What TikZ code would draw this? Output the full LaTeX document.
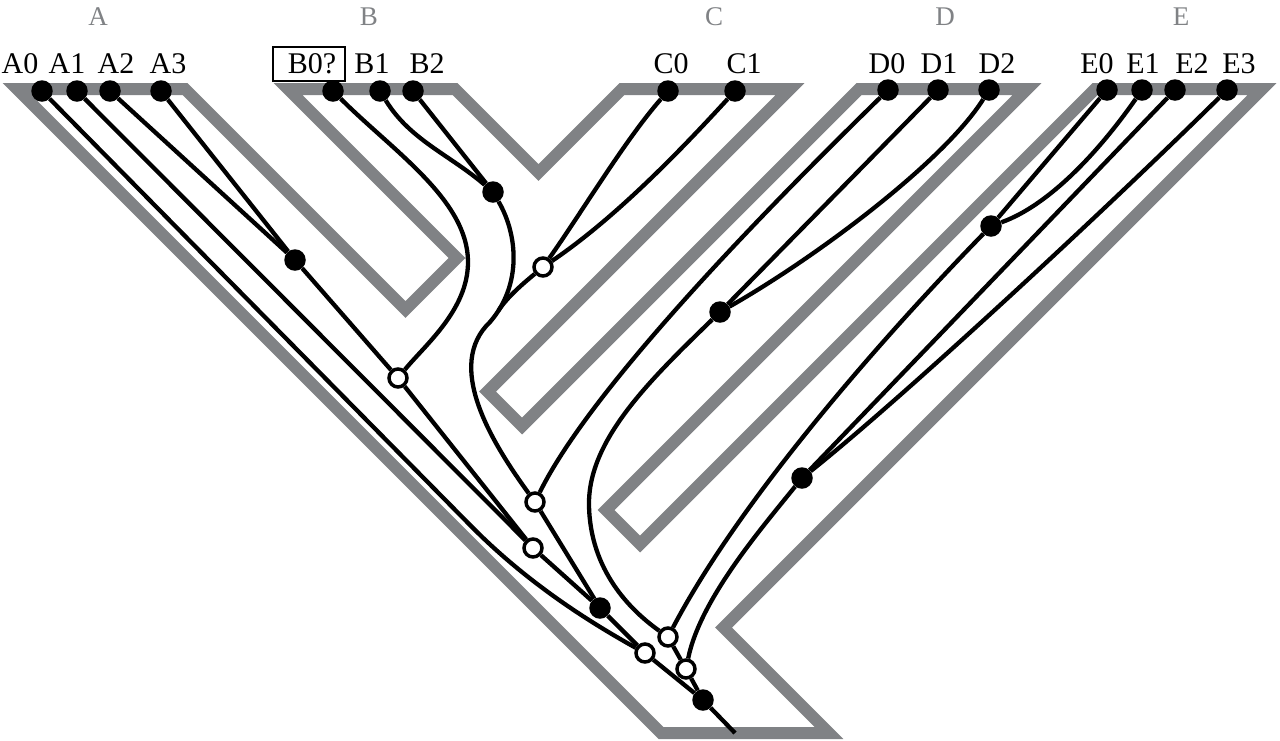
\documentclass[tikz,border=0pt]{standalone}
\usepackage{fontspec}
\setmainfont{Liberation Serif}
\definecolor{sgray}{RGB}{128,130,133}
\pgfdeclarelayer{bg}
\pgfsetlayers{bg,main}
\begin{document}
\begin{tikzpicture}[x=1pt,y=-1pt,
  species/.style={draw=sgray, line width=12pt, line join=miter},
  gene/.style={draw=black, line width=4.3pt},
  fdot/.style={circle, fill=black, inner sep=0pt, minimum size=21.5pt},
  odot/.style={circle, fill=white, draw=black, line width=3.5pt, inner sep=0pt, minimum size=18pt},
  leaf/.style={font=\fontsize{30}{31}\selectfont, anchor=base, inner sep=0pt},
  grp/.style={font=\fontsize{27}{28}\selectfont, anchor=base, text=sgray, inner sep=0pt},
  tagbox/.style={draw=black, line width=2pt, minimum width=72pt, minimum height=34pt, inner sep=0pt}
]
\useasboundingbox (0,0) rectangle (1280,740);

% group labels
\node[grp] (gA) at (98,25) {A};
\node[grp] (gB) at (369,25) {B};
\node[grp] (gC) at (714,25) {C};
\node[grp] (gD) at (945,25) {D};
\node[grp] (gE) at (1181,25) {E};

% leaf labels
\node[leaf] (la0) at (20,73) {A0};
\node[leaf] (la1) at (67,73) {A1};
\node[leaf] (la2) at (116,73) {A2};
\node[leaf] (la3) at (168,73) {A3};
\node[tagbox] (bbox) at (309,64) {};
\node[leaf] (lb0) at (312,73) {B0?};
\node[leaf] (lb1) at (372,73) {B1};
\node[leaf] (lb2) at (427,73) {B2};
\node[leaf] (lc0) at (671,73) {C0};
\node[leaf] (lc1) at (744,73) {C1};
\node[leaf] (ld0) at (887,73) {D0};
\node[leaf] (ld1) at (939,73) {D1};
\node[leaf] (ld2) at (997,73) {D2};
\node[leaf] (le0) at (1097,73) {E0};
\node[leaf] (le1) at (1143,73) {E1};
\node[leaf] (le2) at (1192,73) {E2};
\node[leaf] (le3) at (1239,73) {E3};

% leaf dots
\node[fdot] (a0) at (42,91) {};
\node[fdot] (a1) at (77,91) {};
\node[fdot] (a2) at (110,91) {};
\node[fdot] (a3) at (161,91) {};
\node[fdot] (b0) at (333,91) {};
\node[fdot] (b1) at (380,91) {};
\node[fdot] (b2) at (413,91) {};
\node[fdot] (c0) at (668,91) {};
\node[fdot] (c1) at (735,91) {};
\node[fdot] (d0) at (888,90) {};
\node[fdot] (d1) at (938,90) {};
\node[fdot] (d2) at (989,90) {};
\node[fdot] (e0) at (1107,90) {};
\node[fdot] (e1) at (1142,90) {};
\node[fdot] (e2) at (1175,90) {};
\node[fdot] (e3) at (1227,90) {};

% internal nodes
\node[fdot] (n23) at (295,260) {};
\node[odot] (nAB) at (398,378) {};
\node[fdot] (n12) at (493,192) {};
\node[odot] (nC) at (543,267) {};
\node[fdot] (nD12) at (720,312) {};
\node[fdot] (nE01) at (991,226) {};
\node[fdot] (nE23) at (802,478) {};
\node[odot] (nBD) at (535,502) {};
\node[odot] (nA1) at (533,548) {};
\node[fdot] (nF) at (600,608) {};
\node[odot] (nA0) at (645,653) {};
\node[odot] (nDE) at (668,637) {};
\node[odot] (nDE2) at (686,669) {};
\node[fdot] (root) at (703,700) {};

\coordinate (rootend) at (735,733);
\coordinate (bturn) at (468,262);
\coordinate (bs) at (490,322);
\coordinate (cm) at (498.5,310.5);
\coordinate (dm) at (589,505);
\coordinate (a0b) at (470,525);

\begin{pgfonlayer}{bg}
% species tree outline
\draw[species] (17,89) -- (185,89) -- (405.5,309.5) -- (457,258) -- (288,89)
  -- (455,89) -- (538.5,172.5) -- (622,89) -- (790,89) -- (487.5,391.5)
  -- (522,426) -- (859,89) -- (1027,89) -- (606,510) -- (640,544)
  -- (1095,89) -- (1262,89) -- (723.5,627.5) -- (829,733) -- (661,733) -- cycle;

% gene tree
\draw[gene] (a2) -- (n23);
\draw[gene] (a3) -- (n23);
\draw[gene] (n23) -- (nAB);
\draw[gene] (b0) .. controls (393,151) and (468,200) .. (bturn)
  .. controls (468,310) and (425,345) .. (nAB);
\draw[gene] (b1) .. controls (410,140) and (450,155) .. (n12);
\draw[gene] (b2) -- (n12);
\draw[gene] (n12) .. controls (518,235) and (522,285) .. (bs)
  .. controls (445,365) and (490,440) .. (nBD);
\draw[gene] (c0) .. controls (625,140) and (580,215) .. (nC);
\draw[gene] (c1) .. controls (690,140) and (620,215) .. (nC);
\draw[gene] (nC) .. controls (525,282) and (508,296) .. (cm);
\draw[gene] (d0) .. controls (760,215) and (590,390) .. (nBD);
\draw[gene] (d1) -- (nD12);
\draw[gene] (d2) .. controls (945,160) and (820,255) .. (nD12);
\draw[gene] (nD12) .. controls (650,380) and (588,440) .. (dm)
  .. controls (590,570) and (630,610) .. (nDE);
\draw[gene] (e0) -- (nE01);
\draw[gene] (e1) .. controls (1100,150) and (1050,205) .. (nE01);
\draw[gene] (nE01) .. controls (880,340) and (740,500) .. (nDE);
\draw[gene] (e2) -- (nE23);
\draw[gene] (e3) .. controls (1100,215) and (900,400) .. (nE23);
\draw[gene] (nE23) .. controls (760,530) and (700,600) .. (nDE2);
\draw[gene] (nDE) -- (nDE2);
\draw[gene] (nDE2) -- (root);
\draw[gene] (nBD) -- (nF);
\draw[gene] (nA1) -- (nF);
\draw[gene] (nAB) -- (nA1);
\draw[gene] (a1) -- (nA1);
\draw[gene] (a0) -- (a0b) .. controls (530,586) and (595,625) .. (nA0);
\draw[gene] (nF) -- (nA0);
\draw[gene] (nA0) -- (root);
\draw[gene] (root) -- (rootend);
\end{pgfonlayer}
\end{tikzpicture}
\end{document}
